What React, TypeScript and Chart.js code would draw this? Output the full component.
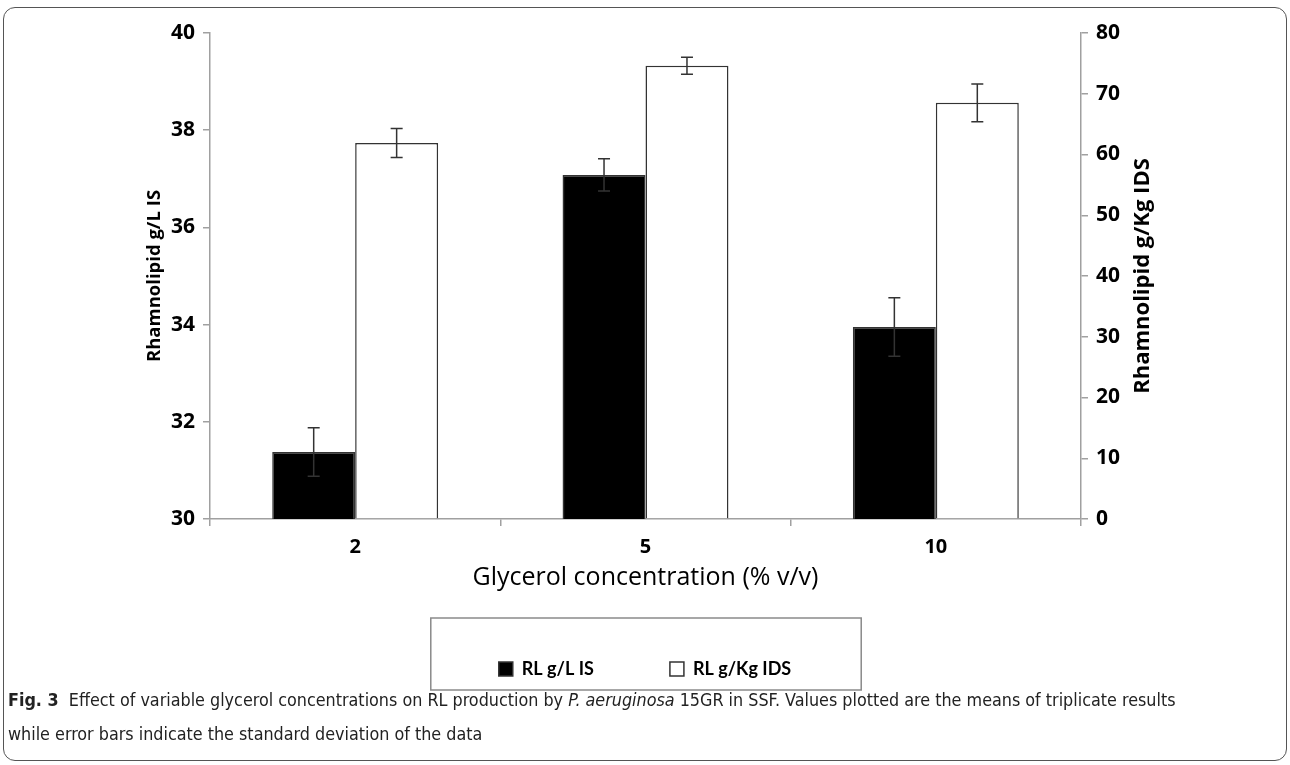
import React, { useEffect, useRef } from 'react';
import { Chart, registerables } from 'chart.js';

Chart.register(...registerables);

// ---- data ----
const categories = ['2', '5', '10'];
const seriesISLabel = 'RL g/L IS';
const seriesIDSLabel = 'RL g/Kg IDS';
const rlIS = [31.38, 37.08, 33.95];
const rlISErr = [0.5, 0.33, 0.6];
const rlIDS = [61.9, 74.6, 68.5];
const rlIDSErr = [2.4, 1.4, 3.1];
const leftTicks = [30, 32, 34, 36, 38, 40];
const rightTicks = [0, 10, 20, 30, 40, 50, 60, 70, 80];
const leftTitle = 'Rhamnolipid g/L IS';
const rightTitle = 'Rhamnolipid g/Kg IDS';
const xTitle = 'Glycerol concentration (% v/v)';

const FONT = '"Open Sans", Lato, sans-serif';
const LEGEND_FONT = 'Lato, "Open Sans", sans-serif';

const errorBarPlugin = {
  id: 'errorBars',
  afterDatasetsDraw(chart: any) {
    const ctx = chart.ctx;
    ctx.save();
    ctx.strokeStyle = '#333';
    ctx.lineWidth = 1.5;
    chart.data.datasets.forEach((ds: any, i: number) => {
      const meta = chart.getDatasetMeta(i);
      const errs = ds.errors as number[] | undefined;
      if (!errs) return;
      const yScale = chart.scales[meta.yAxisID];
      meta.data.forEach((bar: any, j: number) => {
        const v = ds.data[j];
        const yT = yScale.getPixelForValue(v + errs[j]);
        const yB = yScale.getPixelForValue(v - errs[j]);
        const x = bar.x;
        const cap = 6;
        ctx.beginPath();
        ctx.moveTo(x, yT);
        ctx.lineTo(x, yB);
        ctx.moveTo(x - cap, yT);
        ctx.lineTo(x + cap, yT);
        ctx.moveTo(x - cap, yB);
        ctx.lineTo(x + cap, yB);
        ctx.stroke();
      });
    });
    ctx.restore();
  },
};

const decorPlugin = {
  id: 'decor',
  afterDraw(chart: any) {
    const ctx = chart.ctx;
    const area = chart.chartArea;
    // right axis title, reading bottom-to-top
    ctx.save();
    ctx.fillStyle = '#000';
    ctx.font = `bold 22px ${FONT}`;
    ctx.textAlign = 'center';
    ctx.textBaseline = 'middle';
    ctx.translate(1143, (area.top + area.bottom) / 2);
    ctx.rotate(-Math.PI / 2);
    ctx.fillText(rightTitle, 0, 0);
    ctx.restore();
    // legend frame
    const lg = chart.legend;
    const boxes = lg && lg.legendHitBoxes;
    if (boxes && boxes.length) {
      let minL = Infinity;
      let maxR = -Infinity;
      boxes.forEach((b: any) => {
        minL = Math.min(minL, b.left);
        maxR = Math.max(maxR, b.left + b.width);
      });
      const cy = boxes[0].top + boxes[0].height / 2;
      ctx.save();
      ctx.strokeStyle = '#8a8a8a';
      ctx.lineWidth = 1.5;
      ctx.strokeRect(minL - 68, cy - 51, maxR - minL + 138, 72);
      ctx.restore();
    }
  },
};

export default function App() {
  const ref = useRef<HTMLCanvasElement | null>(null);

  useEffect(() => {
    if (!ref.current) return;
    const chart = new Chart(ref.current, {
      type: 'bar',
      data: {
        labels: categories,
        datasets: [
          {
            label: seriesISLabel,
            data: rlIS,
            errors: rlISErr,
            yAxisID: 'y',
            backgroundColor: '#000000',
            borderColor: '#333333',
            borderWidth: 1.5,
            categoryPercentage: 2 / 3.5,
            barPercentage: 1,
          } as any,
          {
            label: seriesIDSLabel,
            data: rlIDS,
            errors: rlIDSErr,
            yAxisID: 'y1',
            backgroundColor: '#ffffff',
            borderColor: '#333333',
            borderWidth: 1.5,
            categoryPercentage: 2 / 3.5,
            barPercentage: 1,
          } as any,
        ],
      },
      options: {
        responsive: false,
        animation: false,
        devicePixelRatio: 1,
        layout: { padding: { left: 0, right: 0, top: 33, bottom: 12 } },
        plugins: {
          tooltip: { enabled: false },
          title: { display: false },
          legend: {
            display: true,
            position: 'bottom',
            labels: {
              boxWidth: 14,
              boxHeight: 14,
              padding: 76,
              color: '#000',
              font: { family: LEGEND_FONT, size: 18, weight: 'bold' },
            },
          },
        },
        scales: {
          x: {
            offset: true,
            grid: {
              display: true,
              drawOnChartArea: false,
              drawTicks: true,
              tickLength: 7,
              color: '#a0a0a0',
              lineWidth: 1.5,
              offset: true,
            },
            border: { display: true, color: '#a0a0a0', width: 1.5 },
            ticks: {
              color: '#000',
              padding: 9,
              font: { family: FONT, size: 20, weight: 'bold', lineHeight: 1.2 },
            },
            title: {
              display: true,
              text: xTitle,
              color: '#000',
              font: { family: FONT, size: 25, lineHeight: 1 },
              padding: { top: 0, bottom: -6.5 },
            },
            afterFit: (s: any) => {
              s.height = 65;
            },
          },
          y: {
            position: 'left',
            min: 30,
            max: 40,
            afterBuildTicks: (s: any) => {
              s.ticks = leftTicks.map((v) => ({ value: v }));
            },
            grid: {
              drawOnChartArea: false,
              drawTicks: true,
              tickLength: 7,
              color: '#a0a0a0',
              lineWidth: 1.5,
            },
            border: { display: true, color: '#a0a0a0', width: 1.5 },
            ticks: {
              color: '#000',
              padding: 8,
              font: { family: FONT, size: 21, weight: 'bold' },
            },
            title: {
              display: true,
              text: leftTitle,
              color: '#000',
              font: { family: FONT, size: 18.5, weight: 'bold', lineHeight: 1.2 },
              padding: { top: 144, bottom: 0 },
            },
            afterFit: (s: any) => {
              s.width = 210;
            },
          },
          y1: {
            position: 'right',
            min: 0,
            max: 80,
            afterBuildTicks: (s: any) => {
              s.ticks = rightTicks.map((v) => ({ value: v }));
            },
            grid: {
              drawOnChartArea: false,
              drawTicks: true,
              tickLength: 7,
              color: '#a0a0a0',
              lineWidth: 1.5,
            },
            border: { display: true, color: '#a0a0a0', width: 1.5 },
            ticks: {
              color: '#000',
              padding: 8,
              font: { family: FONT, size: 21, weight: 'bold' },
            },
            title: { display: false },
            afterFit: (s: any) => {
              s.width = 209;
            },
          },
        },
      } as any,
      plugins: [errorBarPlugin, decorPlugin],
    });
    return () => chart.destroy();
  }, []);

  return (
    <div
      style={{
        position: 'fixed',
        left: 0,
        top: 0,
        width: 1290,
        height: 765,
        background: '#fff',
        overflow: 'hidden',
      }}
    >
      <div
        style={{
          position: 'absolute',
          left: 3,
          top: 7,
          width: 1282,
          height: 752,
          border: '1.5px solid #555',
          borderRadius: 12,
        }}
      />
      <canvas
        ref={ref}
        width={1290}
        height={700}
        style={{ position: 'absolute', left: 0, top: 0, width: 1290, height: 700 }}
      />
      <div
        style={{
          position: 'absolute',
          left: 8,
          top: 683,
          width: 1270,
          fontFamily: '"Liberation Sans Narrow", "DejaVu Sans Condensed", sans-serif',
          fontSize: 17.8,
          lineHeight: '34px',
          color: '#222',
          whiteSpace: 'nowrap',
        }}
      >
        <b>Fig. 3</b>&nbsp; Effect of variable glycerol concentrations on RL production by{' '}
        <i>P. aeruginosa</i> 15GR in SSF. Values plotted are the means of triplicate results
        <br />
        while error bars indicate the standard deviation of the data
      </div>
    </div>
  );
}
